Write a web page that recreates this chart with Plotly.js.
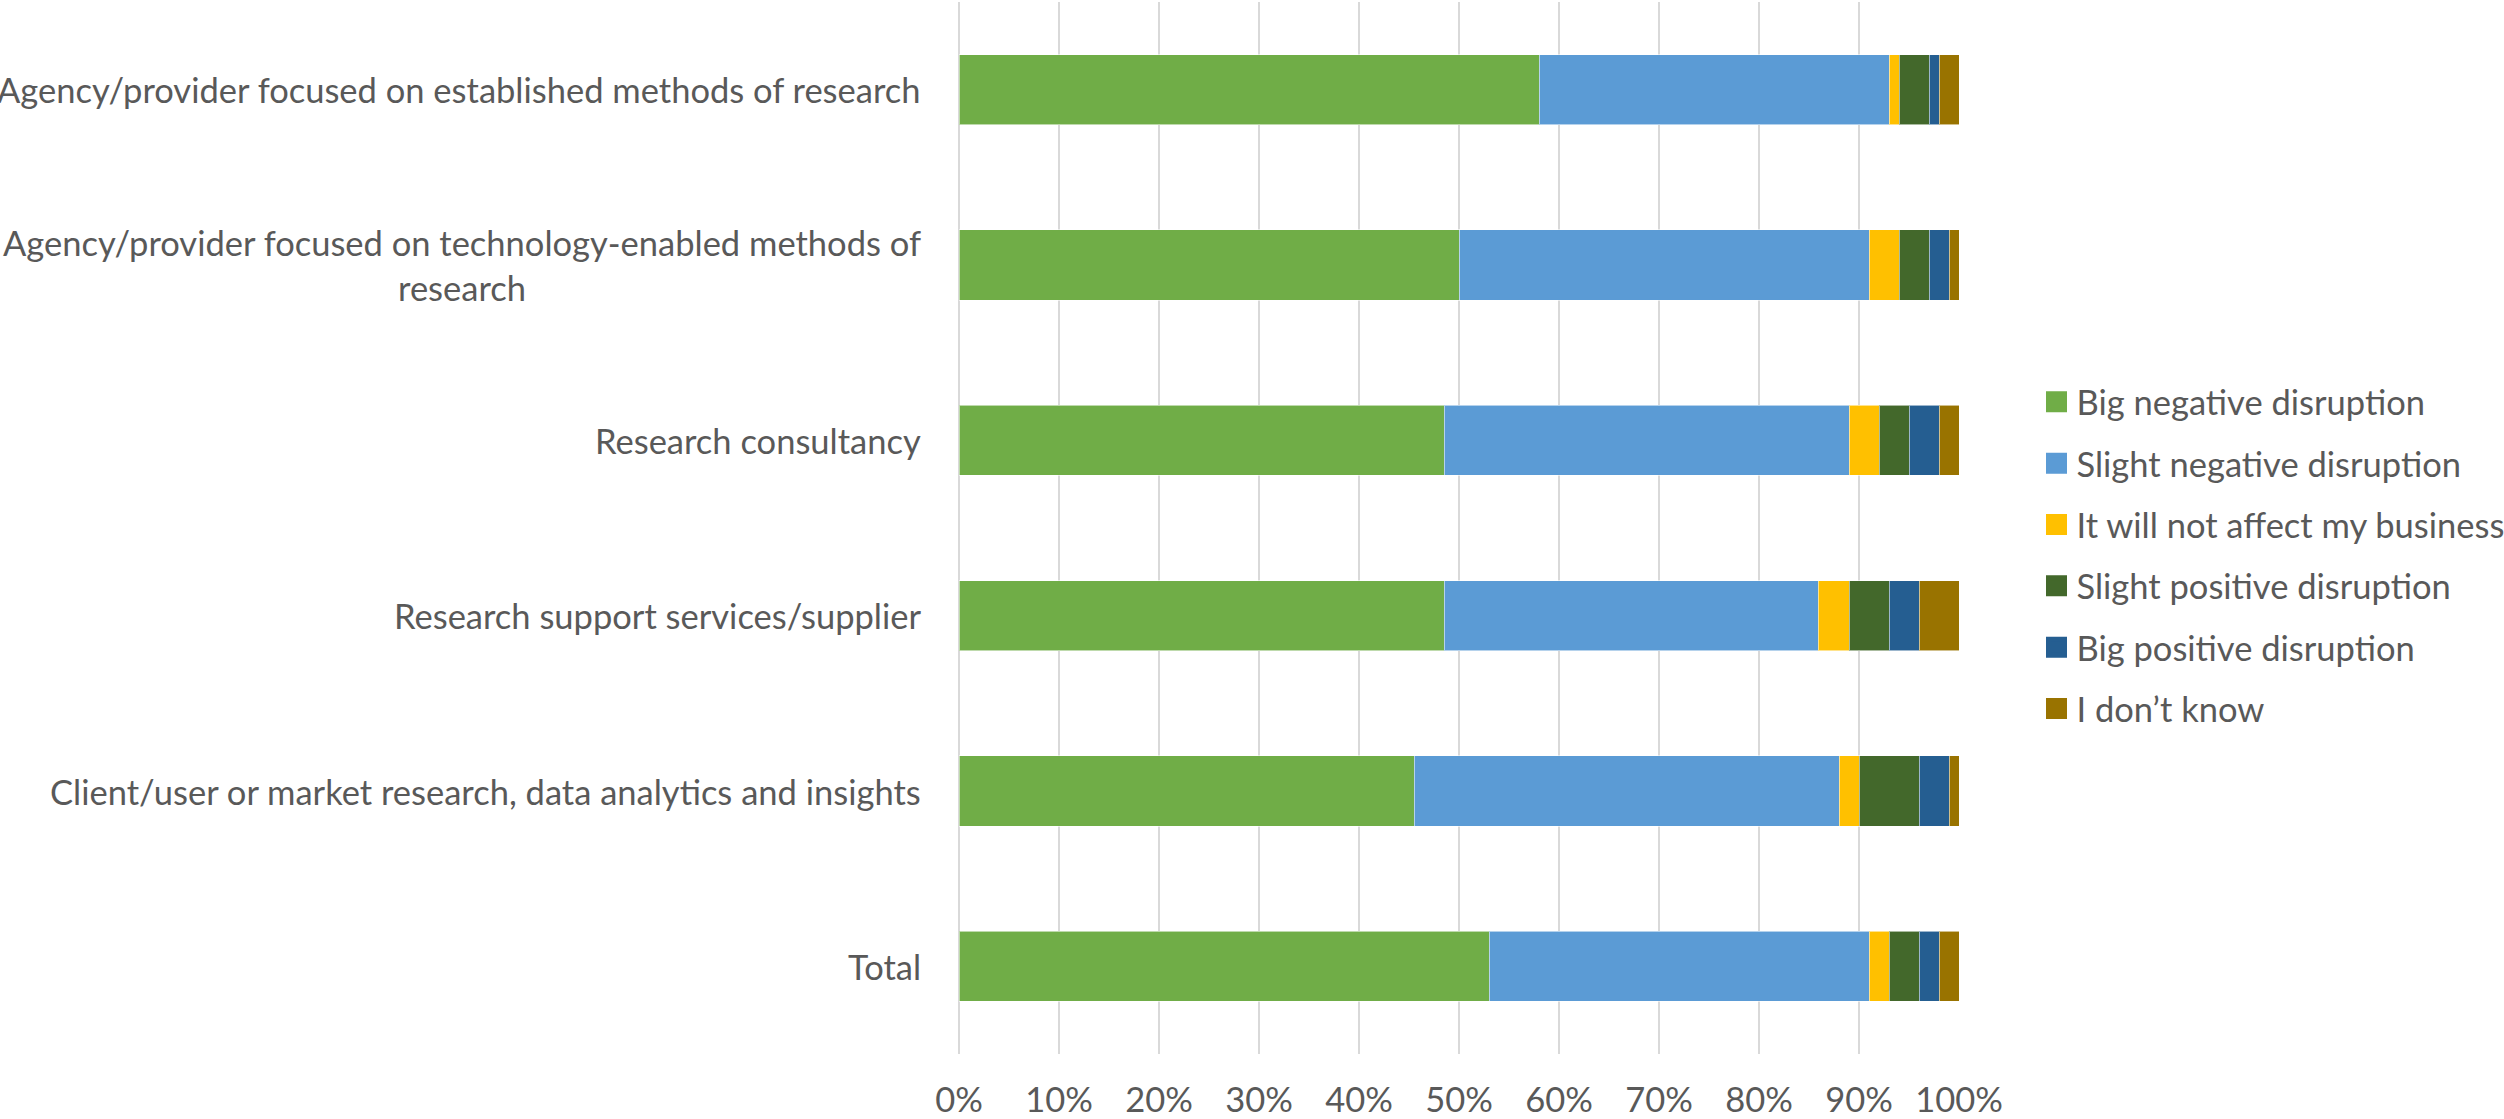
<!DOCTYPE html>
<html>
<head>
<meta charset="utf-8">
<script src="https://cdn.plot.ly/plotly-3.0.1.min.js"></script>
<style>
html,body{margin:0;padding:0;background:#fff;}
#chart{width:2504px;height:1119px;}
</style>
</head>
<body>
<div id="chart"></div>
<script>
const categories = [
  "Agency/provider focused on established methods of research",
  "Agency/provider focused on technology-enabled methods of<br>research",
  "Research consultancy",
  "Research support services/supplier",
  "Client/user or market research, data analytics and insights",
  "Total"
];
const seriesNames = [
  "Big negative disruption",
  "Slight negative disruption",
  "It will not affect my business",
  "Slight positive disruption",
  "Big positive disruption",
  "I don\u2019t know"
];
const bigNegative    = [58, 50, 48.5, 48.5, 45.5, 53];
const slightNegative = [35, 41, 40.5, 37.4, 42.5, 38];
const noEffect       = [1, 3, 3, 3.1, 2, 2];
const slightPositive = [3, 3, 3, 4, 6, 3];
const bigPositive    = [1, 2, 3, 3, 3, 2];
const dontKnow       = [2, 1, 2, 4, 1, 2];
const xTicks = [0, 10, 20, 30, 40, 50, 60, 70, 80, 90, 100];

const seriesValues = [bigNegative, slightNegative, noEffect, slightPositive, bigPositive, dontKnow];
const colors = ["#70AD47", "#5B9BD5", "#FFC000", "#43682B", "#255E91", "#997300"];

const FONT = "Lato, 'Noto Sans', sans-serif";
const FS = 34.5;
const TXT = "#595959";

const traces = [];
seriesValues.forEach((vals, i) => {
  traces.push({
    type: "bar",
    orientation: "h",
    name: seriesNames[i],
    y: categories,
    x: vals,
    marker: {color: colors[i], line: {color: "rgba(255,255,255,0.55)", width: 1}},
    legendgroup: "g" + i,
    showlegend: false,
    hoverinfo: "x+name"
  });
});
seriesValues.forEach((vals, i) => {
  traces.push({
    type: "scatter",
    mode: "markers",
    name: seriesNames[i],
    x: [null],
    y: [null],
    marker: {symbol: "square", size: 16, color: colors[i], line: {color: colors[i], width: 5}},
    legendgroup: "g" + i,
    showlegend: true,
    hoverinfo: "skip"
  });
});

const annotations = categories.map(c => ({
  xref: "paper", yref: "y",
  x: -0.0365, y: c,
  xanchor: "right", yanchor: "middle",
  align: "center",
  text: c,
  showarrow: false,
  font: {family: FONT, size: FS, color: TXT}
}));

const layout = {
  width: 2504, height: 1119,
  margin: {l: 959, r: 545, t: 2, b: 65, pad: 0, autoexpand: false},
  paper_bgcolor: "#ffffff",
  plot_bgcolor: "#ffffff",
  barmode: "stack",
  bargap: 0.6,
  showlegend: true,
  font: {family: FONT, size: FS, color: TXT},
  xaxis: {
    range: [0, 100],
    tickvals: xTicks,
    ticktext: xTicks.map(v => v + "%"),
    showgrid: true,
    gridcolor: "#d9d9d9",
    gridwidth: 1.5,
    zeroline: true,
    zerolinecolor: "#d9d9d9",
    zerolinewidth: 1.5,
    showline: false,
    ticks: "",
    ticklabelstandoff: 22,
    tickfont: {family: FONT, size: FS, color: TXT},
    fixedrange: true
  },
  yaxis: {
    type: "category",
    autorange: "reversed",
    showticklabels: false,
    showgrid: false,
    zeroline: false,
    showline: false,
    ticks: "",
    fixedrange: true
  },
  legend: {
    x: 1.0775, xanchor: "left",
    y: 0.474, yanchor: "middle",
    traceorder: "grouped",
    tracegroupgap: 13.5,
    font: {family: FONT, size: FS, color: TXT},
    bgcolor: "rgba(0,0,0,0)",
    borderwidth: 0
  },
  annotations: annotations
};

Plotly.newPlot("chart", traces, layout, {displayModeBar: false, staticPlot: true});
</script>
</body>
</html>
